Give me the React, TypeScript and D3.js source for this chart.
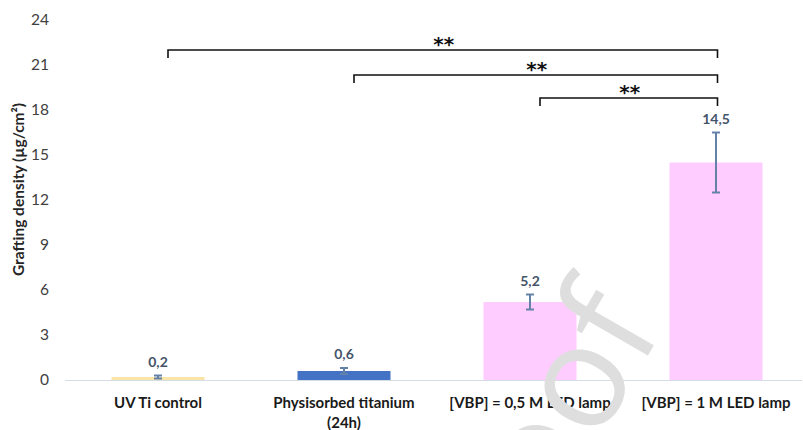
import React from "react";
import * as d3 from "d3";

const categories = ["UV Ti control", "Physisorbed titanium|(24h)", "[VBP] = 0,5 M LED lamp", "[VBP] = 1 M LED lamp"];
const values = [0.2, 0.6, 5.2, 14.5];
const errors = [0.1, 0.2, 0.5, 2.0];
const valueLabels = ["0,2", "0,6", "5,2", "14,5"];
const barColors = ["#fbe5a6", "#4472c4", "#ffccff", "#ffccff"];
const yTicks = [0, 3, 6, 9, 12, 15, 18, 21, 24];
// significance brackets: [from index, to index, level in data units]
const bracketFrom = [0, 1, 2];
const bracketTo = [3, 3, 3];
const bracketLevel = [22, 20.33, 18.8];
const bracketLabel = ["**", "**", "**"];

const W = 803;
const H = 430;

export default function App() {
  const x = d3.scaleBand<string>().domain(categories).range([65, 809]).paddingInner(0.5).paddingOuter(0.25);
  const y = d3.scaleLinear().domain([0, 24]).range([380, 20]);
  const bw = x.bandwidth();
  const cx = (i: number) => (x(categories[i]) as number) + bw / 2;
  const font = "Lato, 'Open Sans', sans-serif";

  return (
    <svg width={W} height={H} style={{ position: "absolute", left: 0, top: 0, background: "#fff" }} fontFamily={font}>
      {/* y tick labels */}
      {yTicks.map((t) => (
        <text key={t} x={49} y={y(t)} dy="0.35em" textAnchor="end" fontSize={15.5} fill="#404040">
          {t}
        </text>
      ))}
      {/* y axis title */}
      <text
        transform={`translate(19, ${y(12.7)}) rotate(-90)`}
        textAnchor="middle"
        dy="0.35em"
        fontSize={15.5}
        fontWeight="bold"
        fill="#262626"
      >
        Grafting density  (µg/cm²)
      </text>
      {/* bars */}
      {values.map((v, i) => (
        <rect key={i} x={x(categories[i])} y={y(v)} width={bw} height={y(0) - y(v)} fill={barColors[i]} />
      ))}
      {/* baseline */}
      <line x1={65} x2={802} y1={y(0) + 0.5} y2={y(0) + 0.5} stroke="#d6dce5" strokeWidth={1.2} />
      {/* error bars */}
      {values.map((v, i) => {
        const c = cx(i);
        const t = y(v + errors[i]);
        const b = y(v - errors[i]);
        return (
          <g key={i} stroke="#6482a8" strokeWidth={2}>
            <line x1={c} x2={c} y1={t} y2={b} />
            <line x1={c - 4} x2={c + 4} y1={t} y2={t} />
            <line x1={c - 4} x2={c + 4} y1={b} y2={b} />
          </g>
        );
      })}
      {/* value labels */}
      {values.map((v, i) => (
        <text key={i} x={cx(i)} y={y(v + errors[i]) - 9} textAnchor="middle" fontSize={14} fontWeight="bold" fill="#44546a">
          {valueLabels[i]}
        </text>
      ))}
      {/* x labels */}
      {categories.map((c, i) => (
        <text key={i} x={cx(i)} y={408} textAnchor="middle" fontSize={15} fontWeight="bold" fill="#1a1a1a">
          {c.split("|").map((line, k) => (
            <tspan key={k} x={cx(i)} dy={k === 0 ? 0 : 20}>
              {line}
            </tspan>
          ))}
        </text>
      ))}
      {/* significance brackets */}
      {bracketFrom.map((f, k) => {
        const x1 = cx(f) + 10;
        const x2 = cx(bracketTo[k]) + 1.5;
        const yy = y(bracketLevel[k]);
        return (
          <g key={k}>
            <path d={`M${x1},${yy + 8}V${yy}H${x2}V${yy + 8}`} fill="none" stroke="#111" strokeWidth={1.6} />
            <text x={(x1 + x2) / 2 + 1} y={yy + 1} textAnchor="middle" fontSize={20} fontWeight="bold" fontFamily="'DejaVu Sans', sans-serif" fill="#111">
              {bracketLabel[k]}
            </text>
          </g>
        );
      })}
      {/* watermark */}
      <text
        transform="translate(572, 487) rotate(-60)"
        textAnchor="middle"
        fontSize={145}
        fontFamily="'Open Sans', sans-serif"
        fill="#dedede"
      >
        Proof
      </text>
    </svg>
  );
}
